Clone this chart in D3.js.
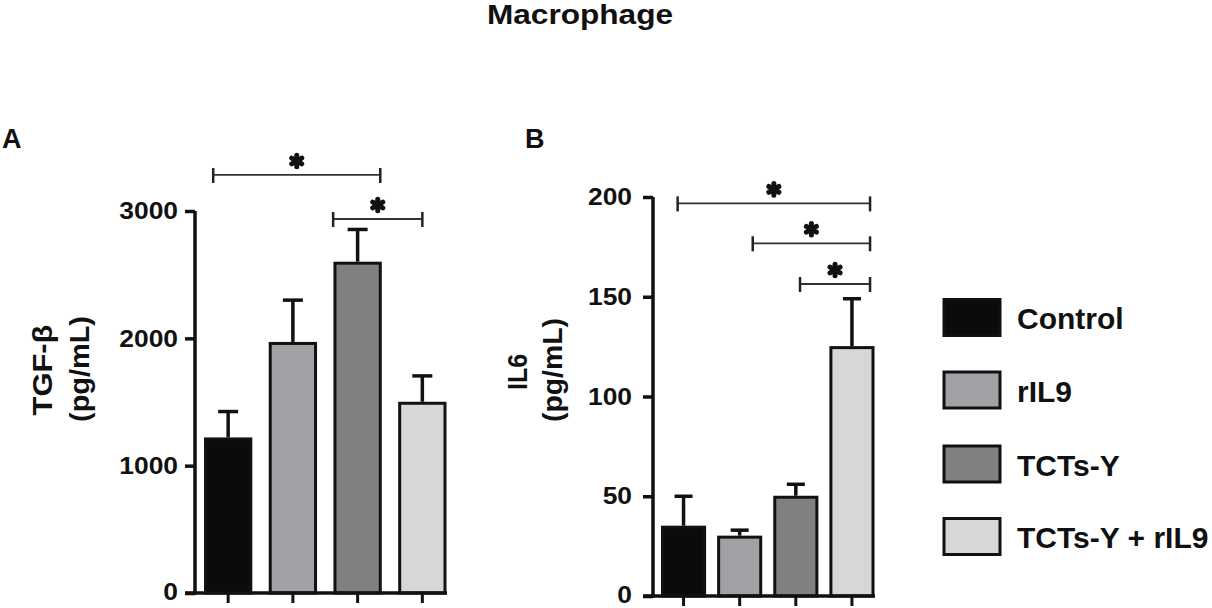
<!DOCTYPE html>
<html>
<head>
<meta charset="utf-8">
<script src="https://cdn.jsdelivr.net/npm/d3@7"></script>
<style>
  html, body { margin: 0; padding: 0; background: #fff; }
  svg { display: block; }
  text { font-family: "Liberation Sans", Arial, sans-serif; font-weight: bold; fill: #111; }
</style>
</head>
<body>
<svg id="chart" width="1212" height="608"></svg>
<script>
// ---------- data ----------
const groups = ["Control", "rIL9", "TCTs-Y", "TCTs-Y + rIL9"];
const groupColors = ["#0b0b0b", "#a0a1a5", "#7f807f", "#d6d7d7"];

const tgfMean = [1210, 1960, 2590, 1490];
const tgfErr  = [215, 340, 265, 215];
const tgfTicks = [0, 1000, 2000, 3000];

const il6Mean = [34.5, 29.5, 49.5, 124.5];
const il6Err  = [15.5, 3.5, 6.5, 24.5];
const il6Ticks = [0, 50, 100, 150, 200];

// significance brackets: [fromIndex, fromFrac, toIndex, toFrac, level (data units)]
const tgfSig = [[0, 0.17, 2, 1.0, 3283], [2, -0.04, 3, 0.5, 2937]];
const il6Sig = [[0, 0.36, 3, 0.93, 196.8], [1, 0.81, 3, 0.93, 176.8], [2, 0.6, 3, 0.93, 156.4]];

// ---------- drawing ----------
const svg = d3.select("#chart");

function stretch(sel, k) {
  sel.each(function () {
    const w = this.getComputedTextLength();
    d3.select(this).attr("textLength", w * k).attr("lengthAdjust", "spacingAndGlyphs");
  });
}

svg.append("text").attr("x", 580).attr("y", 24).attr("text-anchor", "middle")
  .attr("textLength", 186).attr("lengthAdjust", "spacingAndGlyphs")
  .style("font-size", "28px").text("Macrophage");

function panel(cfg) {
  const g = svg.append("g");
  const x = d3.scaleBand().domain(d3.range(groups.length)).range(cfg.xr)
    .paddingInner(cfg.padIn).paddingOuter(0);
  const y = d3.scaleLinear().domain(cfg.yd).range(cfg.yr);

  // panel letter
  g.append("text").attr("x", cfg.letterX).attr("y", 148).style("font-size", "27px").text(cfg.letter);

  // y label (two lines, rotated)
  cfg.ylabel.forEach((t, i) => {
    g.append("text")
      .attr("transform", `translate(${cfg.ylabX[i]},${cfg.ylabY[i]}) rotate(-90)`)
      .attr("text-anchor", "middle").style("font-size", "27px")
      .attr("textLength", cfg.ylabLen[i]).attr("lengthAdjust", "spacingAndGlyphs")
      .text(t);
  });

  // bars
  g.selectAll("rect.bar").data(cfg.mean).join("rect").attr("class", "bar")
    .attr("x", (d, i) => x(i)).attr("width", x.bandwidth())
    .attr("y", d => y(d)).attr("height", d => y(0) - y(d))
    .attr("fill", (d, i) => groupColors[i])
    .attr("stroke", "#111").attr("stroke-width", 3);

  // error bars
  const eg = g.append("g").attr("stroke", "#111").attr("stroke-width", 3.5);
  cfg.mean.forEach((m, i) => {
    const cx = x(i) + x.bandwidth() / 2;
    eg.append("line").attr("x1", cx).attr("x2", cx).attr("y1", y(m) - 1.5).attr("y2", y(m + cfg.err[i]));
    eg.append("line").attr("x1", cx - cfg.cap / 2).attr("x2", cx + cfg.cap / 2)
      .attr("y1", y(m + cfg.err[i])).attr("y2", y(m + cfg.err[i]));
  });

  // y axis
  const yAxis = d3.axisLeft(y).tickValues(cfg.ticks).tickSize(10).tickSizeOuter(0)
    .tickPadding(cfg.tickPad).tickFormat(d3.format("d"));
  const ya = g.append("g").attr("transform", `translate(${cfg.axisX},0)`).call(yAxis);
  ya.selectAll("path, line").attr("stroke", "#111").attr("stroke-width", 3.5);
  ya.select("path.domain").attr("d", `M0,${y(cfg.yd[0]) + 1.5}V${y(cfg.yd[1])}`);
  ya.selectAll("text").style("font-size", "24px").attr("fill", "#111")
    .style("font-family", "'Liberation Sans', Arial, sans-serif").style("font-weight", "bold");
  stretch(ya.selectAll("text"), 1.1);
  ya.selectAll(".tick").filter(d => d === 0).select("text").attr("dy", "0.26em");

  // x axis
  const xAxis = d3.axisBottom(x).tickSize(10).tickSizeOuter(0).tickFormat("");
  const xa = g.append("g").attr("transform", `translate(0,${y(0)})`).call(xAxis);
  xa.selectAll("line").attr("stroke", "#111").attr("stroke-width", 3);
  xa.select("path.domain").attr("d", `M${cfg.axisX - 10},0H${cfg.xr[1] + 2}`)
    .attr("stroke", "#111").attr("stroke-width", 3.5);

  // significance brackets
  const sg = g.append("g");
  cfg.sig.forEach(s => {
    const x1 = x(s[0]) + s[1] * x.bandwidth();
    const x2 = x(s[2]) + s[3] * x.bandwidth();
    const yy = y(s[4]);
    sg.append("line").attr("x1", x1).attr("x2", x2).attr("y1", yy).attr("y2", yy)
      .attr("stroke", "#333").attr("stroke-width", 1.8);
    [x1, x2].forEach(xx => sg.append("line").attr("x1", xx).attr("x2", xx)
      .attr("y1", yy - 7).attr("y2", yy + 8).attr("stroke", "#222").attr("stroke-width", 2.5));
    // heavy asterisk
    const cx = (x1 + x2) / 2, cy = yy - 14;
    const star = sg.append("g").attr("transform", `translate(${cx},${cy})`);
    [0, 60, 120].forEach(a => star.append("line")
      .attr("x1", 0).attr("y1", -5.8).attr("x2", 0).attr("y2", 5.8)
      .attr("transform", `rotate(${a})`)
      .attr("stroke", "#111").attr("stroke-width", 5).attr("stroke-linecap", "round"));
  });
}

panel({
  letter: "A", letterX: 2,
  xr: [205.5, 445], padIn: 0.3, yd: [0, 3000], yr: [593, 211],
  mean: tgfMean, err: tgfErr, ticks: tgfTicks, cap: 20,
  axisX: 195, tickPad: 7,
  ylabel: ["TGF-β", "(pg/mL)"], ylabX: [51.5, 89], ylabY: [370, 369], ylabLen: [91, 106],
  sig: tgfSig
});

panel({
  letter: "B", letterX: 525,
  xr: [662.5, 873], padIn: 0.25, yd: [0, 200], yr: [596, 197],
  mean: il6Mean, err: il6Err, ticks: il6Ticks, cap: 18,
  axisX: 653, tickPad: 11,
  ylabel: ["IL6", "(pg/mL)"], ylabX: [527, 562], ylabY: [372, 370], ylabLen: [36, 104],
  sig: il6Sig
});

// legend
const lg = svg.append("g");
const legendCenters = [317.5, 390, 464, 536.5];
groups.forEach((name, i) => {
  lg.append("rect").attr("x", 944).attr("y", legendCenters[i] - 18).attr("width", 56).attr("height", 36)
    .attr("fill", groupColors[i]).attr("stroke", "#111").attr("stroke-width", 3);
  lg.append("text").attr("x", 1017).attr("y", legendCenters[i] + 11.5)
    .style("font-size", "30px").text(name);
});
</script>
</body>
</html>
